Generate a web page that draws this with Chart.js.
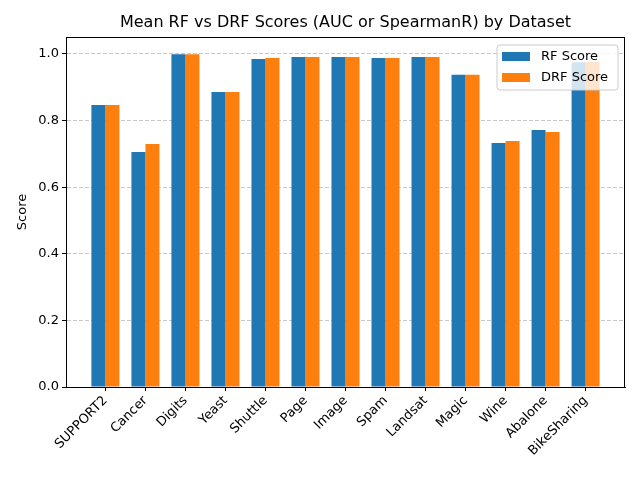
<!DOCTYPE html>
<html>
<head>
<meta charset="utf-8">
<script src="https://cdn.jsdelivr.net/npm/chart.js@4.4.0/dist/chart.umd.min.js"></script>
<style>
html,body{margin:0;padding:0;background:#fff;}
#c{display:block;}
</style>
</head>
<body>
<canvas id="c" width="640" height="480"></canvas>
<script>
const datasets_names = ['SUPPORT2','Cancer','Digits','Yeast','Shuttle','Page','Image','Spam','Landsat','Magic','Wine','Abalone','BikeSharing'];
const rfScores  = [0.847,0.706,0.999,0.886,0.985,0.991,0.991,0.988,0.991,0.938,0.733,0.772,0.975];
const drfScores = [0.847,0.730,0.999,0.886,0.988,0.991,0.991,0.988,0.991,0.938,0.739,0.766,0.976];
const yTicks = [0,0.2,0.4,0.6,0.8,1.0];
const seriesNames = ['RF Score','DRF Score'];
const titleText = 'Mean RF vs DRF Scores (AUC or SpearmanR) by Dataset';
const yLabel = 'Score';

const FONT = 'DejaVu Sans';
const C1 = '#1f77b4', C2 = '#ff7f0e';

const extras = {
  id: 'extras',
  afterDatasetsDraw(chart) {
    const ctx = chart.ctx, a = chart.chartArea;
    ctx.save();
    // frame
    ctx.strokeStyle = '#000'; ctx.lineWidth = 1;
    ctx.strokeRect(Math.round(a.left)+0.5, Math.round(a.top)+0.5, Math.round(a.right-a.left)-1, Math.round(a.bottom-a.top));
    // legend
    const lx = 497, ly = 45, lw = 121, lh = 45, r = 3;
    ctx.beginPath();
    ctx.moveTo(lx+r, ly); ctx.lineTo(lx+lw-r, ly); ctx.arcTo(lx+lw, ly, lx+lw, ly+r, r);
    ctx.lineTo(lx+lw, ly+lh-r); ctx.arcTo(lx+lw, ly+lh, lx+lw-r, ly+lh, r);
    ctx.lineTo(lx+r, ly+lh); ctx.arcTo(lx, ly+lh, lx, ly+lh-r, r);
    ctx.lineTo(lx, ly+r); ctx.arcTo(lx, ly, lx+r, ly, r);
    ctx.closePath();
    ctx.fillStyle = 'rgba(255,255,255,0.8)'; ctx.fill();
    ctx.strokeStyle = '#cccccc'; ctx.stroke();
    const cols = [C1, C2];
    ctx.font = '13px "' + FONT + '"';
    ctx.textBaseline = 'middle'; ctx.textAlign = 'left';
    chart.data.datasets.forEach((ds, i) => {
      const y = 52 + i*21;
      ctx.fillStyle = cols[i];
      ctx.fillRect(502, y, 28, 9);
      ctx.fillStyle = '#000';
      ctx.fillText(ds.label, 541, y + 5);
    });
    // title
    ctx.font = '16px "' + FONT + '"';
    ctx.textAlign = 'center'; ctx.textBaseline = 'middle';
    ctx.fillText(titleText, (a.left + a.right)/2, 23);
    ctx.restore();
  }
};

new Chart(document.getElementById('c'), {
  type: 'bar',
  data: {
    datasets: [
      { label: seriesNames[0], data: rfScores.map((v,i)=>({x:i, y:v})), backgroundColor: C1, borderWidth: 0 },
      { label: seriesNames[1], data: drfScores.map((v,i)=>({x:i, y:v})), backgroundColor: C2, borderWidth: 0 }
    ]
  },
  options: {
    responsive: false,
    animation: false,
    devicePixelRatio: 1,
    layout: { padding: { top: 37, right: 15, left: 0, bottom: 0 } },
    datasets: { bar: { categoryPercentage: 0.7, barPercentage: 1.0 } },
    plugins: { legend: { display: false }, title: { display: false }, tooltip: { enabled: false } },
    scales: {
      x: {
        type: 'linear',
        offset: false,
        min: -0.985, max: 12.985,
        afterBuildTicks(s) { s.ticks = datasets_names.map((_, i) => ({ value: i })); },
        afterFit(s) { s.height = 93; },
        grid: { display: true, offset: false, drawOnChartArea: false, tickLength: 4, tickColor: '#000', color: '#000' },
        border: { display: true, color: '#000' },
        ticks: {
          autoSkip: false, maxRotation: 45, minRotation: 45, padding: 2,
          color: '#000', font: { family: FONT, size: 13 },
          callback: (v) => datasets_names[Math.round(v)] ?? ''
        }
      },
      y: {
        min: 0, max: 1.051,
        afterBuildTicks(s) { s.ticks = yTicks.map(v => ({ value: v })); },
        afterFit(s) { s.width = 66; },
        grid: { color: 'rgba(176,176,176,0.7)', tickLength: 4, tickColor: '#000', tickBorderDash: [] },
        border: { display: true, color: '#000', dash: [4, 2] },
        ticks: { padding: 3, color: '#000', font: { family: FONT, size: 13 }, callback: v => v.toFixed(1) },
        title: { display: true, text: yLabel, color: '#000', font: { family: FONT, size: 13 }, padding: { top: 15, bottom: 0 } }
      }
    }
  },
  plugins: [extras]
});
</script>
</body>
</html>
